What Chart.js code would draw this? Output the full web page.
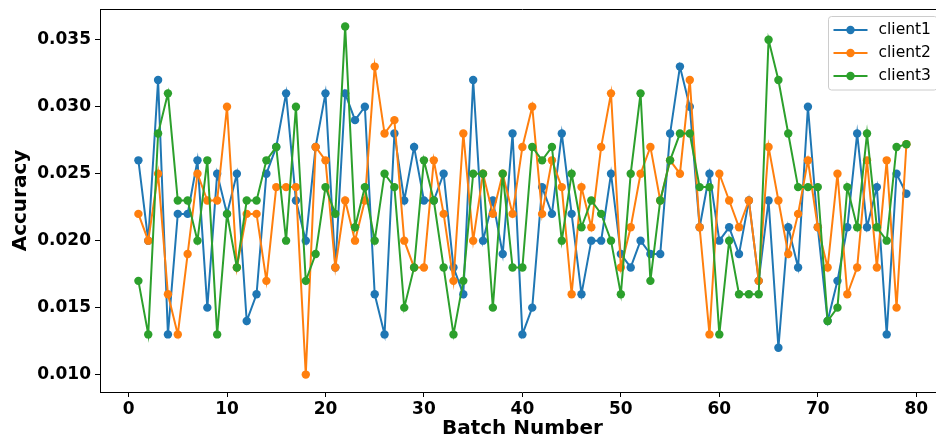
<!DOCTYPE html>
<html>
<head>
<meta charset="utf-8">
<script src="https://cdn.jsdelivr.net/npm/chart.js@4.4.1/dist/chart.umd.min.js"></script>
<style>
  html, body { margin: 0; padding: 0; background: #fff; overflow: hidden; }
  #wrap { width: 936px; height: 438px; overflow: hidden; }
</style>
</head>
<body>
<div id="wrap"><canvas id="myChart" width="949" height="438"></canvas></div>
<script>
const batches = [1, 2, 3, 4, 5, 6, 7, 8, 9, 10, 11, 12, 13, 14, 15, 16, 17, 18, 19, 20,
  21, 22, 23, 24, 25, 26, 27, 28, 29, 30, 31, 32, 33, 34, 35, 36, 37, 38, 39, 40,
  41, 42, 43, 44, 45, 46, 47, 48, 49, 50, 51, 52, 53, 54, 55, 56, 57, 58, 59, 60,
  61, 62, 63, 64, 65, 66, 67, 68, 69, 70, 71, 72, 73, 74, 75, 76, 77, 78, 79];

const client1 = [0.026, 0.020, 0.032, 0.013, 0.022, 0.022, 0.026, 0.015, 0.025, 0.022,
  0.025, 0.014, 0.016, 0.025, 0.027, 0.031, 0.023, 0.020, 0.027, 0.031,
  0.018, 0.031, 0.029, 0.030, 0.016, 0.013, 0.028, 0.023, 0.027, 0.023,
  0.023, 0.025, 0.018, 0.016, 0.032, 0.020, 0.023, 0.019, 0.028, 0.013,
  0.015, 0.024, 0.022, 0.028, 0.022, 0.016, 0.020, 0.020, 0.025, 0.019,
  0.018, 0.020, 0.019, 0.019, 0.028, 0.033, 0.030, 0.021, 0.025, 0.020,
  0.021, 0.019, 0.023, 0.017, 0.023, 0.012, 0.021, 0.018, 0.030, 0.021,
  0.014, 0.017, 0.021, 0.028, 0.021, 0.024, 0.013, 0.025, 0.0235];

const client2 = [0.022, 0.020, 0.025, 0.016, 0.013, 0.019, 0.025, 0.023, 0.023, 0.030,
  0.018, 0.022, 0.022, 0.017, 0.024, 0.024, 0.024, 0.010, 0.027, 0.026,
  0.018, 0.023, 0.020, 0.023, 0.033, 0.028, 0.029, 0.020, 0.018, 0.018,
  0.026, 0.022, 0.017, 0.028, 0.020, 0.025, 0.022, 0.025, 0.022, 0.027,
  0.030, 0.022, 0.026, 0.024, 0.016, 0.024, 0.021, 0.027, 0.031, 0.018,
  0.021, 0.025, 0.027, 0.023, 0.026, 0.025, 0.032, 0.021, 0.013, 0.025,
  0.023, 0.021, 0.023, 0.017, 0.027, 0.023, 0.019, 0.022, 0.026, 0.021,
  0.018, 0.025, 0.016, 0.018, 0.026, 0.018, 0.026, 0.015, 0.0272];

const client3 = [0.017, 0.013, 0.028, 0.031, 0.023, 0.023, 0.020, 0.026, 0.013, 0.022,
  0.018, 0.023, 0.023, 0.026, 0.027, 0.020, 0.030, 0.017, 0.019, 0.024,
  0.022, 0.036, 0.021, 0.024, 0.020, 0.025, 0.024, 0.015, 0.018, 0.026,
  0.023, 0.018, 0.013, 0.017, 0.025, 0.025, 0.015, 0.025, 0.018, 0.018,
  0.027, 0.026, 0.027, 0.020, 0.025, 0.021, 0.023, 0.022, 0.020, 0.016,
  0.025, 0.031, 0.017, 0.023, 0.026, 0.028, 0.028, 0.024, 0.024, 0.013,
  0.020, 0.016, 0.016, 0.016, 0.035, 0.032, 0.028, 0.024, 0.024, 0.024,
  0.014, 0.015, 0.024, 0.021, 0.028, 0.021, 0.020, 0.027, 0.0272];

const seriesNames = ['client1', 'client2', 'client3'];
const xTickValues = [0, 10, 20, 30, 40, 50, 60, 70, 80];
const yTickValues = [0.010, 0.015, 0.020, 0.025, 0.030, 0.035];

const FONT = '"DejaVu Sans", "Liberation Sans", sans-serif';
const colors = ['#1f77b4', '#ff7f0e', '#2ca02c'];

function makeSet(name, values, i) {
  return {
    label: name,
    data: batches.map((b, k) => ({ x: b, y: values[k] })),
    borderColor: colors[i],
    backgroundColor: colors[i],
    pointBackgroundColor: colors[i],
    pointBorderWidth: 0,
    pointRadius: 4.2,
    pointHoverRadius: 4.2,
    borderWidth: 2,
    tension: 0,
    order: 3 - i
  };
}

// matplotlib style legend box (line + marker)
const legendBox = {
  id: 'legendBox',
  afterDraw(chart) {
    const { ctx, chartArea } = chart;
    const w = 108.8, h = 73.5;
    const x = chartArea.right - 7.5 - w, y = chartArea.top + 7.5;
    ctx.save();
    ctx.beginPath();
    ctx.roundRect(x, y, w, h, 3);
    ctx.fillStyle = 'rgba(255,255,255,0.8)';
    ctx.fill();
    ctx.strokeStyle = '#cccccc';
    ctx.lineWidth = 1;
    ctx.stroke();
    chart.data.datasets.forEach((ds, i) => {
      const cy = y + 13.5 + i * 23;
      ctx.strokeStyle = ds.borderColor;
      ctx.lineWidth = 2;
      ctx.beginPath();
      ctx.moveTo(x + 5, cy);
      ctx.lineTo(x + 39, cy);
      ctx.stroke();
      ctx.fillStyle = ds.borderColor;
      ctx.beginPath();
      ctx.arc(x + 22, cy, 4.2, 0, Math.PI * 2);
      ctx.fill();
      ctx.fillStyle = '#000';
      ctx.font = '15.5px ' + FONT;
      ctx.textBaseline = 'middle';
      ctx.fillText(ds.label, x + 50, cy);
    });
    ctx.restore();
  }
};

// top and right spines
const frame = {
  id: 'frame',
  beforeDatasetsDraw(chart) {
    const { ctx, chartArea: a } = chart;
    ctx.save();
    ctx.strokeStyle = '#000';
    ctx.lineWidth = 1;
    ctx.beginPath();
    ctx.moveTo(a.left, a.top + 0.5);
    ctx.lineTo(a.right, a.top + 0.5);
    ctx.moveTo(a.right - 0.5, a.top);
    ctx.lineTo(a.right - 0.5, a.bottom);
    ctx.stroke();
    ctx.restore();
  }
};

const ctx = document.getElementById('myChart');

new Chart(ctx, {
  type: 'line',
  data: {
    datasets: [
      makeSet(seriesNames[0], client1, 0),
      makeSet(seriesNames[1], client2, 1),
      makeSet(seriesNames[2], client3, 2)
    ]
  },
  plugins: [frame, legendBox],
  options: {
    responsive: false,
    animation: false,
    events: [],
    layout: { padding: { top: 9, right: 1, bottom: 0, left: 0 } },
    plugins: {
      legend: { display: false },
      tooltip: { enabled: false }
    },
    scales: {
      x: {
        type: 'linear',
        min: -2.9,
        max: 82.9,
        afterBuildTicks: s => { s.ticks = xTickValues.map(v => ({ value: v })); },
        afterFit: s => { s.height = 46; s.paddingLeft = 0; s.paddingRight = 0; },
        grid: { drawOnChartArea: false, drawTicks: true, tickLength: 5, tickColor: '#000', tickWidth: 1 },
        border: { display: true, color: '#000', width: 1 },
        ticks: {
          color: '#000',
          padding: 2,
          maxRotation: 0,
          autoSkip: false,
          font: { family: FONT, size: 17, weight: 'bold' }
        },
        title: {
          display: true,
          text: 'Batch Number',
          color: '#000',
          padding: { top: 0, bottom: -1 },
          font: { family: FONT, size: 20, weight: 'bold', lineHeight: 1 }
        }
      },
      y: {
        min: 0.0087,
        max: 0.0373,
        afterBuildTicks: s => { s.ticks = yTickValues.map(v => ({ value: v })); },
        afterFit: s => { s.width = 100; s.paddingTop = 0; s.paddingBottom = 0; },
        grid: { drawOnChartArea: false, drawTicks: true, tickLength: 5, tickColor: '#000', tickWidth: 1 },
        border: { display: true, color: '#000', width: 1 },
        ticks: {
          color: '#000',
          padding: 4,
          autoSkip: false,
          callback: v => Number(v).toFixed(3),
          font: { family: FONT, size: 17, weight: 'bold' }
        },
        title: {
          display: true,
          text: 'Accuracy',
          color: '#000',
          padding: { top: 11, bottom: 0 },
          font: { family: FONT, size: 20, weight: 'bold', lineHeight: 1 }
        }
      }
    }
  }
});
</script>
</body>
</html>
